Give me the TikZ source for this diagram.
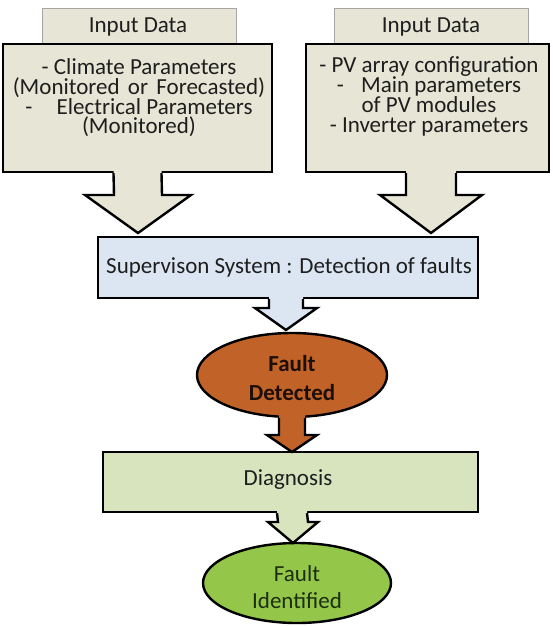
\documentclass[tikz,border=0pt]{standalone}
\usepackage{fontspec}
\setmainfont{Carlito}
\usetikzlibrary{calc,shapes.geometric}
\definecolor{tanfill}{HTML}{E7E5D5}
\definecolor{tabline}{HTML}{A6A6A6}
\definecolor{supblue}{HTML}{DCE6F2}
\definecolor{diaggreen}{HTML}{D7E4BD}
\definecolor{faultorange}{HTML}{C16328}
\definecolor{idgreen}{HTML}{94C64A}
\definecolor{inktext}{HTML}{1E1E1E}
\definecolor{idtext}{HTML}{1C2E10}
\tikzset{
  outl/.style={draw=black, line width=2.4pt, line join=miter},
  tabbox/.style={draw=tabline, line width=0.8pt, fill=tanfill},
  bigbox/.style={outl, rectangle, inner sep=0pt},
  txt/.style={align=center, text=inktext, font=\fontsize{23}{19.7}\selectfont, inner sep=0pt},
  ovalnode/.style={outl, ellipse, inner sep=0pt},
}
% block arrow: #1 start on shape bottom, #2 head base centre, #3 tip,
% #4 half stem width, #5 half head width, #6 fill colour
\newcommand\blkarrow[6]{%
  \fill[#6] ($(#1)+(-#4,-3)$) -- ($(#2)+(-#4,0)$) -- ($(#2)+(-#5,0)$) -- (#3)
     -- ($(#2)+(#5,0)$) -- ($(#2)+(#4,0)$) -- ($(#1)+(#4,-3)$) -- cycle;
  \draw[outl] ($(#1)+(-#4,0)$) -- ($(#2)+(-#4,0)$) -- ($(#2)+(-#5,0)$) -- (#3)
     -- ($(#2)+(#5,0)$) -- ($(#2)+(#4,0)$) -- ($(#1)+(#4,0)$);
}
\begin{document}
\begin{tikzpicture}[x=1pt,y=-1pt]
\useasboundingbox (0,0) rectangle (552,626);

% ---- input data tabs
\node[tabbox, minimum width=194pt, minimum height=36pt] (ltab) at (139,26) {};
\node[txt] (ltabtxt) at (138,27) {Input Data};
\node[tabbox, minimum width=194pt, minimum height=36pt] (rtab) at (431,26) {};
\node[txt] (rtabtxt) at (431,27) {Input Data};

% ---- input data callouts
\node[bigbox, fill=tanfill, minimum width=269pt, minimum height=128pt] (lbox) at (137.5,108) {};
\node[bigbox, fill=tanfill, minimum width=243pt, minimum height=128pt] (rbox) at (427.5,108) {};
\node[txt] (ltxt) at (139,98) {- Climate Parameters\\{\spaceskip=0.36em (Monitored or Forecasted)}\\-\hspace{1.05em}Electrical Parameters\\(Monitored)};
\node[txt] (rtxt) at (429,96) {- PV array configuration\\-\hspace{0.75em}Main parameters\\of PV modules\\- Inverter parameters};

% ---- supervision
\node[bigbox, fill=supblue, minimum width=380pt, minimum height=61pt] (sup) at (288,267.5) {};
\node[txt] (suptxt) at (289,267.5) {Supervison System : Detection of faults};

\coordinate (ltip) at (138,233);
\coordinate (rtip) at (431,233);
\blkarrow{lbox.south}{$(ltip)+(0,-38)$}{ltip}{24}{53}{tanfill}
\blkarrow{$(rbox.south)+(3.5,0)$}{$(rtip)+(0,-38)$}{rtip}{25}{51}{tanfill}

% ---- fault detected
\node[ovalnode, fill=faultorange, minimum width=190pt, minimum height=84pt] (det) at (292,375) {};
\node[txt, font=\fontsize{23}{29}\selectfont\bfseries, text=black!85!faultorange] (dettxt) at (292,378) {Fault\\Detected};
\coordinate (stip) at (286,330);
\blkarrow{$(sup.south)+(-2,0)$}{$(stip)+(0,-22)$}{stip}{17}{31}{supblue}

% ---- diagnosis
\node[bigbox, fill=diaggreen, minimum width=375pt, minimum height=60pt] (diag) at (290.5,482) {};
\node[txt] (diagtxt) at (288,480) {Diagnosis};
\coordinate (dtip) at (292,452);
\blkarrow{det.south}{$(dtip)+(0,-17)$}{dtip}{13}{25}{faultorange}

% ---- fault identified
\node[ovalnode, fill=idgreen, minimum width=188pt, minimum height=80pt] (ident) at (297,583) {};
\node[txt, font=\fontsize{23}{27}\selectfont, text=idtext] (identtxt) at (297,587) {Fault\\Identified};
\coordinate (gtip) at (293,543);
\blkarrow{$(diag.south)+(1.5,0)$}{$(gtip)+(0,-21)$}{gtip}{15}{25}{diaggreen}
\end{tikzpicture}
\end{document}
